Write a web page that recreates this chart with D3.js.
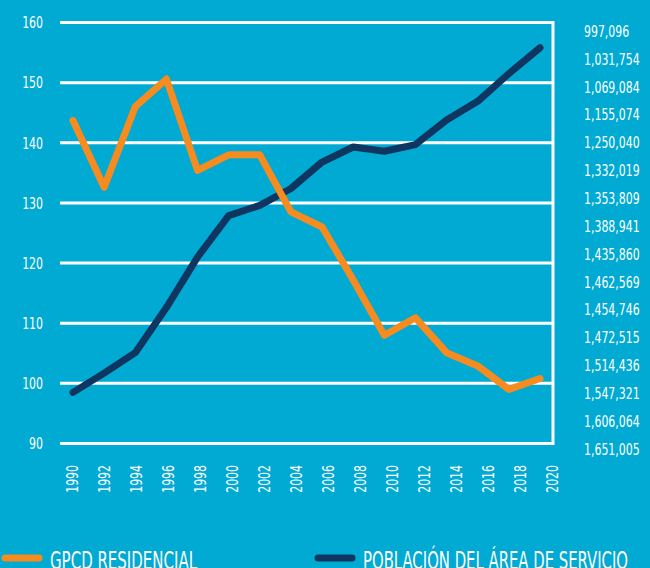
<!DOCTYPE html>
<html>
<head>
<meta charset="utf-8">
<script src="https://cdn.jsdelivr.net/npm/d3@7"></script>
<style>
  html, body { margin: 0; padding: 0; background: #00aad3; overflow: hidden; }
  svg { display: block; }
  text { font-family: "DejaVu Sans Condensed", "Liberation Sans Narrow", "Roboto", sans-serif; fill: #fff; }
</style>
</head>
<body>
<svg></svg>
<script>
var years = ['1990', '1992', '1994', '1996', '1998', '2000', '2002', '2004',
	'2006', '2008', '2010', '2012', '2014', '2016', '2018', '2020']

// gallons per capita per day (left axis)
var gpcd = [143.7, 132.6, 146.0, 150.6, 135.4, 138.0, 138.0, 128.5,
	126.0, 117.2, 108.0, 110.9, 105.1, 102.9, 99.0, 100.8]

// population line, read against the left scale as drawn
var poblacion = [98.5, 101.7, 105.1, 112.6, 121.0, 127.9, 129.6, 132.4,
	136.8, 139.3, 138.6, 139.7, 143.8, 146.9, 151.5, 155.8]

// labels printed down the right side
var poblacionLabels = ['997,096', '1,031,754', '1,069,084', '1,155,074', '1,250,040',
	'1,332,019', '1,353,809', '1,388,941', '1,435,860', '1,462,569', '1,454,746',
	'1,472,515', '1,514,436', '1,547,321', '1,606,064', '1,651,005']

var yTicks = [90, 100, 110, 120, 130, 140, 150, 160]

var width = 650
var height = 568
var orange = '#f68b1f'
var navy = '#0f3660'
var squeeze = 0.76 // the original face is very condensed

var svg = d3.select('svg').attr('width', width).attr('height', height)

var y = d3.scaleLinear().domain([90, 160]).range([443.5, 22.5])
var xLine = d3.scalePoint().domain(years).range([73, 540])
var xLabel = d3.scalePoint().domain(years).range([72, 552])
var yRight = d3.scalePoint().domain(poblacionLabels).range([31, 449])

// grid
var grid = svg.append('g').attr('class', 'grid')
grid.selectAll('line')
	.data(yTicks)
	.enter().append('line')
	.attr('x1', 60)
	.attr('x2', 554)
	.attr('y1', function(d) {return y(d)})
	.attr('y2', function(d) {return y(d)})
	.attr('stroke', '#fff')
	.attr('stroke-width', 3)

grid.append('line')
	.attr('x1', 553).attr('x2', 553)
	.attr('y1', y(160) - 1.5).attr('y2', y(90) + 1.5)
	.attr('stroke', '#fff')
	.attr('stroke-width', 3)

// left axis labels
svg.append('g').selectAll('text')
	.data(yTicks)
	.enter().append('text')
	.attr('transform', function(d) {return 'translate(43,' + y(d) + ') scale(' + squeeze + ',1)'})
	.attr('dy', '0.36em')
	.attr('text-anchor', 'end')
	.attr('font-size', 16)
	.text(function(d) {return d})

// right labels
svg.append('g').selectAll('text')
	.data(poblacionLabels)
	.enter().append('text')
	.attr('transform', function(d) {return 'translate(584,' + yRight(d) + ') scale(' + squeeze + ',1)'})
	.attr('dy', '0.36em')
	.attr('font-size', 16)
	.text(function(d) {return d})

// x labels, rotated
svg.append('g').selectAll('text')
	.data(years)
	.enter().append('text')
	.attr('transform', function(d) {return 'translate(' + xLabel(d) + ',465) rotate(-90) scale(' + squeeze + ',1)'})
	.attr('dy', '0.36em')
	.attr('text-anchor', 'end')
	.attr('font-size', 16)
	.text(function(d) {return d})

// lines
var line = d3.line()
	.x(function(d, i) {return xLine(years[i])})
	.y(function(d) {return y(d)})

svg.append('path')
	.datum(poblacion)
	.attr('d', line)
	.attr('fill', 'none')
	.attr('stroke', navy)
	.attr('stroke-width', 7)
	.attr('stroke-linecap', 'round')
	.attr('stroke-linejoin', 'round')

svg.append('path')
	.datum(gpcd)
	.attr('d', line)
	.attr('fill', 'none')
	.attr('stroke', orange)
	.attr('stroke-width', 7)
	.attr('stroke-linecap', 'round')
	.attr('stroke-linejoin', 'round')

// legend
var legend = [
	{label: 'GPCD RESIDENCIAL', color: orange, x: 5, len: 147},
	{label: 'POBLACIÓN DEL ÁREA DE SERVICIO', color: navy, x: 318, len: 265}
]

var legendItems = svg.append('g').selectAll('g')
	.data(legend)
	.enter().append('g')
	.attr('transform', function(d) {return 'translate(' + d.x + ',558)'})

legendItems.append('line')
	.attr('x1', 0).attr('x2', 34)
	.attr('stroke', function(d) {return d.color})
	.attr('stroke-width', 7)
	.attr('stroke-linecap', 'round')

legendItems.append('text')
	.attr('x', 45)
	.attr('y', 11)
	.attr('font-size', 25)
	.attr('textLength', function(d) {return d.len})
	.attr('lengthAdjust', 'spacingAndGlyphs')
	.text(function(d) {return d.label})
</script>
</body>
</html>
